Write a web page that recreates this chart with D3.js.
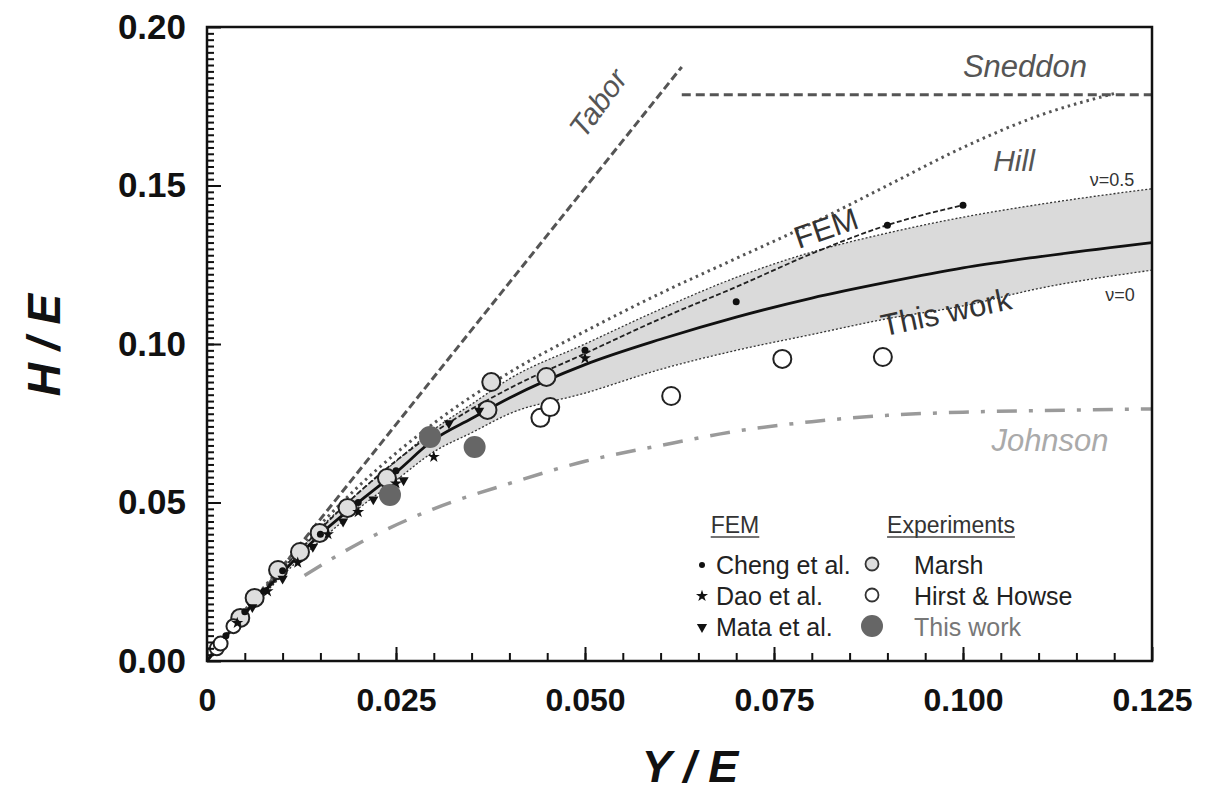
<!DOCTYPE html>
<html>
<head>
<meta charset="utf-8">
<script src="https://cdn.jsdelivr.net/npm/d3@7"></script>
<style>
  body { margin: 0; background: #fff; }
  text { font-family: "Liberation Sans", Arial, sans-serif; }
</style>
</head>
<body>
<svg id="chart" width="1210" height="794"></svg>
<script>
// axis ticks
var xTicks = [0, 0.025, 0.05, 0.075, 0.1, 0.125];
var xTickLabels = ['0', '0.025', '0.050', '0.075', '0.100', '0.125'];
var yTicks = [0, 0.05, 0.1, 0.15, 0.2];
var yTickLabels = ['0.00', '0.05', '0.10', '0.15', '0.20'];

// "This work" model: mean curve and band between nu=0 and nu=0.5
var bandX     = [0, 0.005, 0.01, 0.015, 0.02, 0.025, 0.03, 0.035, 0.04, 0.05, 0.06, 0.07, 0.08, 0.09, 0.1, 0.11, 0.125];
var bandUpper = [0, 0.0155, 0.029, 0.042, 0.053, 0.063, 0.073, 0.081, 0.089, 0.100, 0.111, 0.121, 0.129, 0.135, 0.140, 0.144, 0.149];
var bandMean  = [0, 0.015, 0.028, 0.040, 0.050, 0.0595, 0.0698, 0.0765, 0.083, 0.0935, 0.1015, 0.1085, 0.1145, 0.1195, 0.124, 0.1275, 0.132];
var bandLower = [0, 0.0145, 0.027, 0.038, 0.048, 0.057, 0.066, 0.072, 0.078, 0.0845, 0.092, 0.098, 0.103, 0.108, 0.112, 0.1175, 0.1233];

// other models
var taborLine = [[0, 0], [0.0628, 0.1874]];
var sneddonLine = [[0.0628, 0.1786], [0.125, 0.1786]];
var hillCurve = [[0, 0], [0.005, 0.016], [0.01, 0.03], [0.02, 0.055], [0.03, 0.075], [0.04, 0.091], [0.05, 0.104],
  [0.06, 0.116], [0.07, 0.127], [0.08, 0.138], [0.09, 0.150], [0.1, 0.162], [0.11, 0.172], [0.12, 0.179]];
var femCurve = [[0, 0], [0.01, 0.029], [0.02, 0.053], [0.03, 0.072], [0.04, 0.086], [0.05, 0.097], [0.06, 0.108],
  [0.07, 0.118], [0.08, 0.1285], [0.09, 0.1375], [0.1, 0.1438]];
var johnsonCurve = [[0.0129, 0.027], [0.02, 0.037], [0.03, 0.048], [0.04, 0.056], [0.05, 0.063], [0.06, 0.068],
  [0.07, 0.0725], [0.08, 0.0755], [0.09, 0.0775], [0.1, 0.0785], [0.11, 0.079], [0.125, 0.0795]];

// FEM points
var chengPts = [[0.0025, 0.008], [0.005, 0.0155], [0.0075, 0.022], [0.01, 0.0285], [0.015, 0.040], [0.02, 0.050],
  [0.025, 0.060], [0.03, 0.0697], [0.05, 0.098], [0.07, 0.1133], [0.09, 0.1375], [0.1, 0.1438]];
var daoPts = [[0.004, 0.012], [0.008, 0.022], [0.012, 0.031], [0.016, 0.040], [0.02, 0.047], [0.025, 0.056],
  [0.03, 0.0644], [0.05, 0.0955]];
var mataPts = [[0.006, 0.017], [0.01, 0.026], [0.014, 0.036], [0.018, 0.044], [0.022, 0.051], [0.026, 0.057],
  [0.032, 0.075], [0.036, 0.079]];

// experiments
var marshPts = [[0.0044, 0.0136], [0.0063, 0.0199], [0.0094, 0.0287], [0.0123, 0.0344], [0.0149, 0.0404],
  [0.0186, 0.0483], [0.0238, 0.0577], [0.0376, 0.088], [0.0371, 0.0792], [0.0449, 0.0896]];
var hirstPts = [[0.0013, 0.004], [0.0018, 0.0055], [0.0035, 0.011], [0.0441, 0.0767], [0.0454, 0.0801],
  [0.0614, 0.0836], [0.0761, 0.0953], [0.0894, 0.0959]];
var thisWorkPts = [[0.0242, 0.0524], [0.0295, 0.0707], [0.0354, 0.0675]];

var svg = d3.select('#chart');
var plotLeft = 207, plotRight = 1152, plotTop = 27, plotBottom = 661;

var x = d3.scaleLinear().domain([0, 0.125]).range([plotLeft, plotRight]);
var y = d3.scaleLinear().domain([0, 0.2]).range([plotBottom, plotTop]);

var line = d3.line()
  .x(function(d) { return x(d[0]); })
  .y(function(d) { return y(d[1]); })
  .curve(d3.curveMonotoneX);

var zip = function(ys) {
  return bandX.map(function(v, i) { return [v, ys[i]]; });
};

// band
var band = d3.area()
  .x(function(d, i) { return x(bandX[i]); })
  .y0(function(d, i) { return y(bandLower[i]); })
  .y1(function(d, i) { return y(bandUpper[i]); })
  .curve(d3.curveMonotoneX);

svg.append('path').datum(bandX).attr('d', band).attr('fill', '#dadada');

// model lines
svg.append('path').datum(zip(bandUpper)).attr('d', line)
  .attr('fill', 'none').attr('stroke', '#333').attr('stroke-width', 1.3).attr('stroke-dasharray', '2,2');
svg.append('path').datum(zip(bandLower)).attr('d', line)
  .attr('fill', 'none').attr('stroke', '#333').attr('stroke-width', 1.3).attr('stroke-dasharray', '2,2');

svg.append('path').datum(johnsonCurve).attr('d', line)
  .attr('fill', 'none').attr('stroke', '#9a9a9a').attr('stroke-width', 3.5).attr('stroke-dasharray', '20,12,4,12');

svg.append('path').datum(taborLine).attr('d', line)
  .attr('fill', 'none').attr('stroke', '#555').attr('stroke-width', 3).attr('stroke-dasharray', '8,4');
svg.append('path').datum(sneddonLine).attr('d', line)
  .attr('fill', 'none').attr('stroke', '#555').attr('stroke-width', 3).attr('stroke-dasharray', '9,5');

svg.append('path').datum(hillCurve).attr('d', line)
  .attr('fill', 'none').attr('stroke', '#555').attr('stroke-width', 3).attr('stroke-dasharray', '2.5,4');

svg.append('path').datum(femCurve).attr('d', line)
  .attr('fill', 'none').attr('stroke', '#222').attr('stroke-width', 1.8).attr('stroke-dasharray', '5,2.5');

svg.append('path').datum(zip(bandMean)).attr('d', line)
  .attr('fill', 'none').attr('stroke', '#111').attr('stroke-width', 2.8);

// markers
var star = d3.symbol().type(d3.symbolStar).size(45);
var tri = d3.symbol().type(d3.symbolTriangle).size(45);

svg.append('g').selectAll('circle').data(marshPts).enter().append('circle')
  .attr('cx', function(d) { return x(d[0]); })
  .attr('cy', function(d) { return y(d[1]); })
  .attr('r', 9).attr('fill', '#dedede').attr('stroke', '#222').attr('stroke-width', 2);

svg.append('g').selectAll('circle').data(hirstPts).enter().append('circle')
  .attr('cx', function(d) { return x(d[0]); })
  .attr('cy', function(d) { return y(d[1]); })
  .attr('r', function(d) { return d[0] < 0.01 ? 7 : 9; })
  .attr('fill', '#fff').attr('stroke', '#222').attr('stroke-width', 2);

svg.append('g').selectAll('path').data(daoPts).enter().append('path')
  .attr('d', star)
  .attr('transform', function(d) { return 'translate(' + x(d[0]) + ',' + y(d[1]) + ')'; })
  .attr('fill', '#111');

svg.append('g').selectAll('path').data(mataPts).enter().append('path')
  .attr('d', tri)
  .attr('transform', function(d) { return 'translate(' + x(d[0]) + ',' + y(d[1]) + ') rotate(180)'; })
  .attr('fill', '#111');

svg.append('g').selectAll('circle').data(chengPts).enter().append('circle')
  .attr('cx', function(d) { return x(d[0]); })
  .attr('cy', function(d) { return y(d[1]); })
  .attr('r', 3.5).attr('fill', '#111');

svg.append('g').selectAll('circle').data(thisWorkPts).enter().append('circle')
  .attr('cx', function(d) { return x(d[0]); })
  .attr('cy', function(d) { return y(d[1]); })
  .attr('r', 11).attr('fill', '#666');

// frame and axes
svg.append('rect')
  .attr('x', plotLeft).attr('y', plotTop).attr('width', plotRight - plotLeft).attr('height', plotBottom - plotTop)
  .attr('fill', 'none').attr('stroke', '#111').attr('stroke-width', 2.5);

var xMinor = svg.append('g').attr('transform', 'translate(0,' + plotBottom + ')')
  .call(d3.axisBottom(x).tickValues(d3.range(0.005, 0.125, 0.005)).tickSize(-8).tickFormat(''));
var xMajor = svg.append('g').attr('transform', 'translate(0,' + plotBottom + ')')
  .call(d3.axisBottom(x).tickValues(xTicks).tickSize(-14).tickPadding(27)
    .tickFormat(function(d, i) { return xTickLabels[i]; }));

var yMinor = svg.append('g').attr('transform', 'translate(' + plotLeft + ',0)')
  .call(d3.axisLeft(y).tickValues(d3.range(0.002, 0.2, 0.002)).tickSize(-7).tickFormat(''));
var yMajor = svg.append('g').attr('transform', 'translate(' + plotLeft + ',0)')
  .call(d3.axisLeft(y).tickValues(yTicks).tickSize(-14).tickPadding(21)
    .tickFormat(function(d, i) { return yTickLabels[i]; }));

[xMinor, xMajor, yMinor, yMajor].forEach(function(g) {
  g.select('.domain').remove();
  g.selectAll('line').attr('stroke', '#111').attr('stroke-width', 2);
});
xMajor.selectAll('text').attr('font-size', 32).attr('font-weight', 'bold').attr('fill', '#111');
yMajor.selectAll('text').attr('font-size', 35).attr('font-weight', 'bold').attr('fill', '#111');

svg.append('text').attr('x', 690).attr('y', 782).attr('text-anchor', 'middle')
  .attr('font-size', 45).attr('font-weight', 'bold').attr('font-style', 'italic').attr('fill', '#111')
  .text('Y / E');
svg.append('text').attr('transform', 'translate(60,345) rotate(-90)').attr('text-anchor', 'middle')
  .attr('font-size', 46).attr('font-weight', 'bold').attr('font-style', 'italic').attr('fill', '#111')
  .text('H / E');

// curve labels
var label = function(txt, cx, cy, size, color, italic, angle) {
  svg.append('text')
    .attr('transform', 'translate(' + cx + ',' + cy + ') rotate(' + (angle || 0) + ')')
    .attr('text-anchor', 'middle').attr('dy', '0.35em')
    .attr('font-size', size).attr('fill', color)
    .attr('font-style', italic ? 'italic' : 'normal')
    .text(txt);
};
label('Tabor', 598, 103, 30, '#555', true, -54);
label('Sneddon', 1025, 66, 31, '#555', true, 0);
label('Hill', 1014, 160, 30, '#555', true, 0);
label('\u03bd=0.5', 1112, 180, 18, '#333', false, 0);
label('\u03bd=0', 1120, 295, 18, '#333', false, 0);
label('FEM', 826, 228, 31, '#333', false, -19);
label('This work', 946, 312, 31, '#333', false, -12);
label('Johnson', 1050, 440, 31, '#aaa', true, 0);

// legend
var legend = svg.append('g');
var header = function(txt, cx) {
  var t = legend.append('text').attr('x', cx).attr('y', 533).attr('text-anchor', 'middle')
    .attr('font-size', 23).attr('fill', '#333').text(txt);
  var w = t.node().getComputedTextLength();
  legend.append('line').attr('x1', cx - w / 2).attr('x2', cx + w / 2).attr('y1', 537).attr('y2', 537)
    .attr('stroke', '#444').attr('stroke-width', 1.5);
};
header('FEM', 735);
header('Experiments', 951);

var femNames = ['Cheng et al.', 'Dao et al.', 'Mata et al.'];
var expNames = ['Marsh', 'Hirst & Howse', 'This work'];
var rowY = [565, 596, 627];

femNames.forEach(function(n, i) {
  legend.append('text').attr('x', 716).attr('y', rowY[i]).attr('dy', '0.35em')
    .attr('font-size', 25).attr('fill', '#222').text(n);
});
legend.append('circle').attr('cx', 702).attr('cy', rowY[0]).attr('r', 3).attr('fill', '#111');
legend.append('path').attr('d', star).attr('transform', 'translate(702,' + rowY[1] + ')').attr('fill', '#111');
legend.append('path').attr('d', tri).attr('transform', 'translate(702,' + rowY[2] + ') rotate(180)').attr('fill', '#111');

expNames.forEach(function(n, i) {
  legend.append('text').attr('x', 914).attr('y', rowY[i]).attr('dy', '0.35em')
    .attr('font-size', 25).attr('fill', i === 2 ? '#777' : '#222').text(n);
});
legend.append('circle').attr('cx', 872).attr('cy', rowY[0] - 1).attr('r', 6.5)
  .attr('fill', '#dedede').attr('stroke', '#333').attr('stroke-width', 1.8);
legend.append('circle').attr('cx', 872).attr('cy', rowY[1] - 1).attr('r', 6.5)
  .attr('fill', '#fff').attr('stroke', '#333').attr('stroke-width', 1.8);
legend.append('circle').attr('cx', 872).attr('cy', rowY[2] - 1).attr('r', 11).attr('fill', '#666');
</script>
</body>
</html>
